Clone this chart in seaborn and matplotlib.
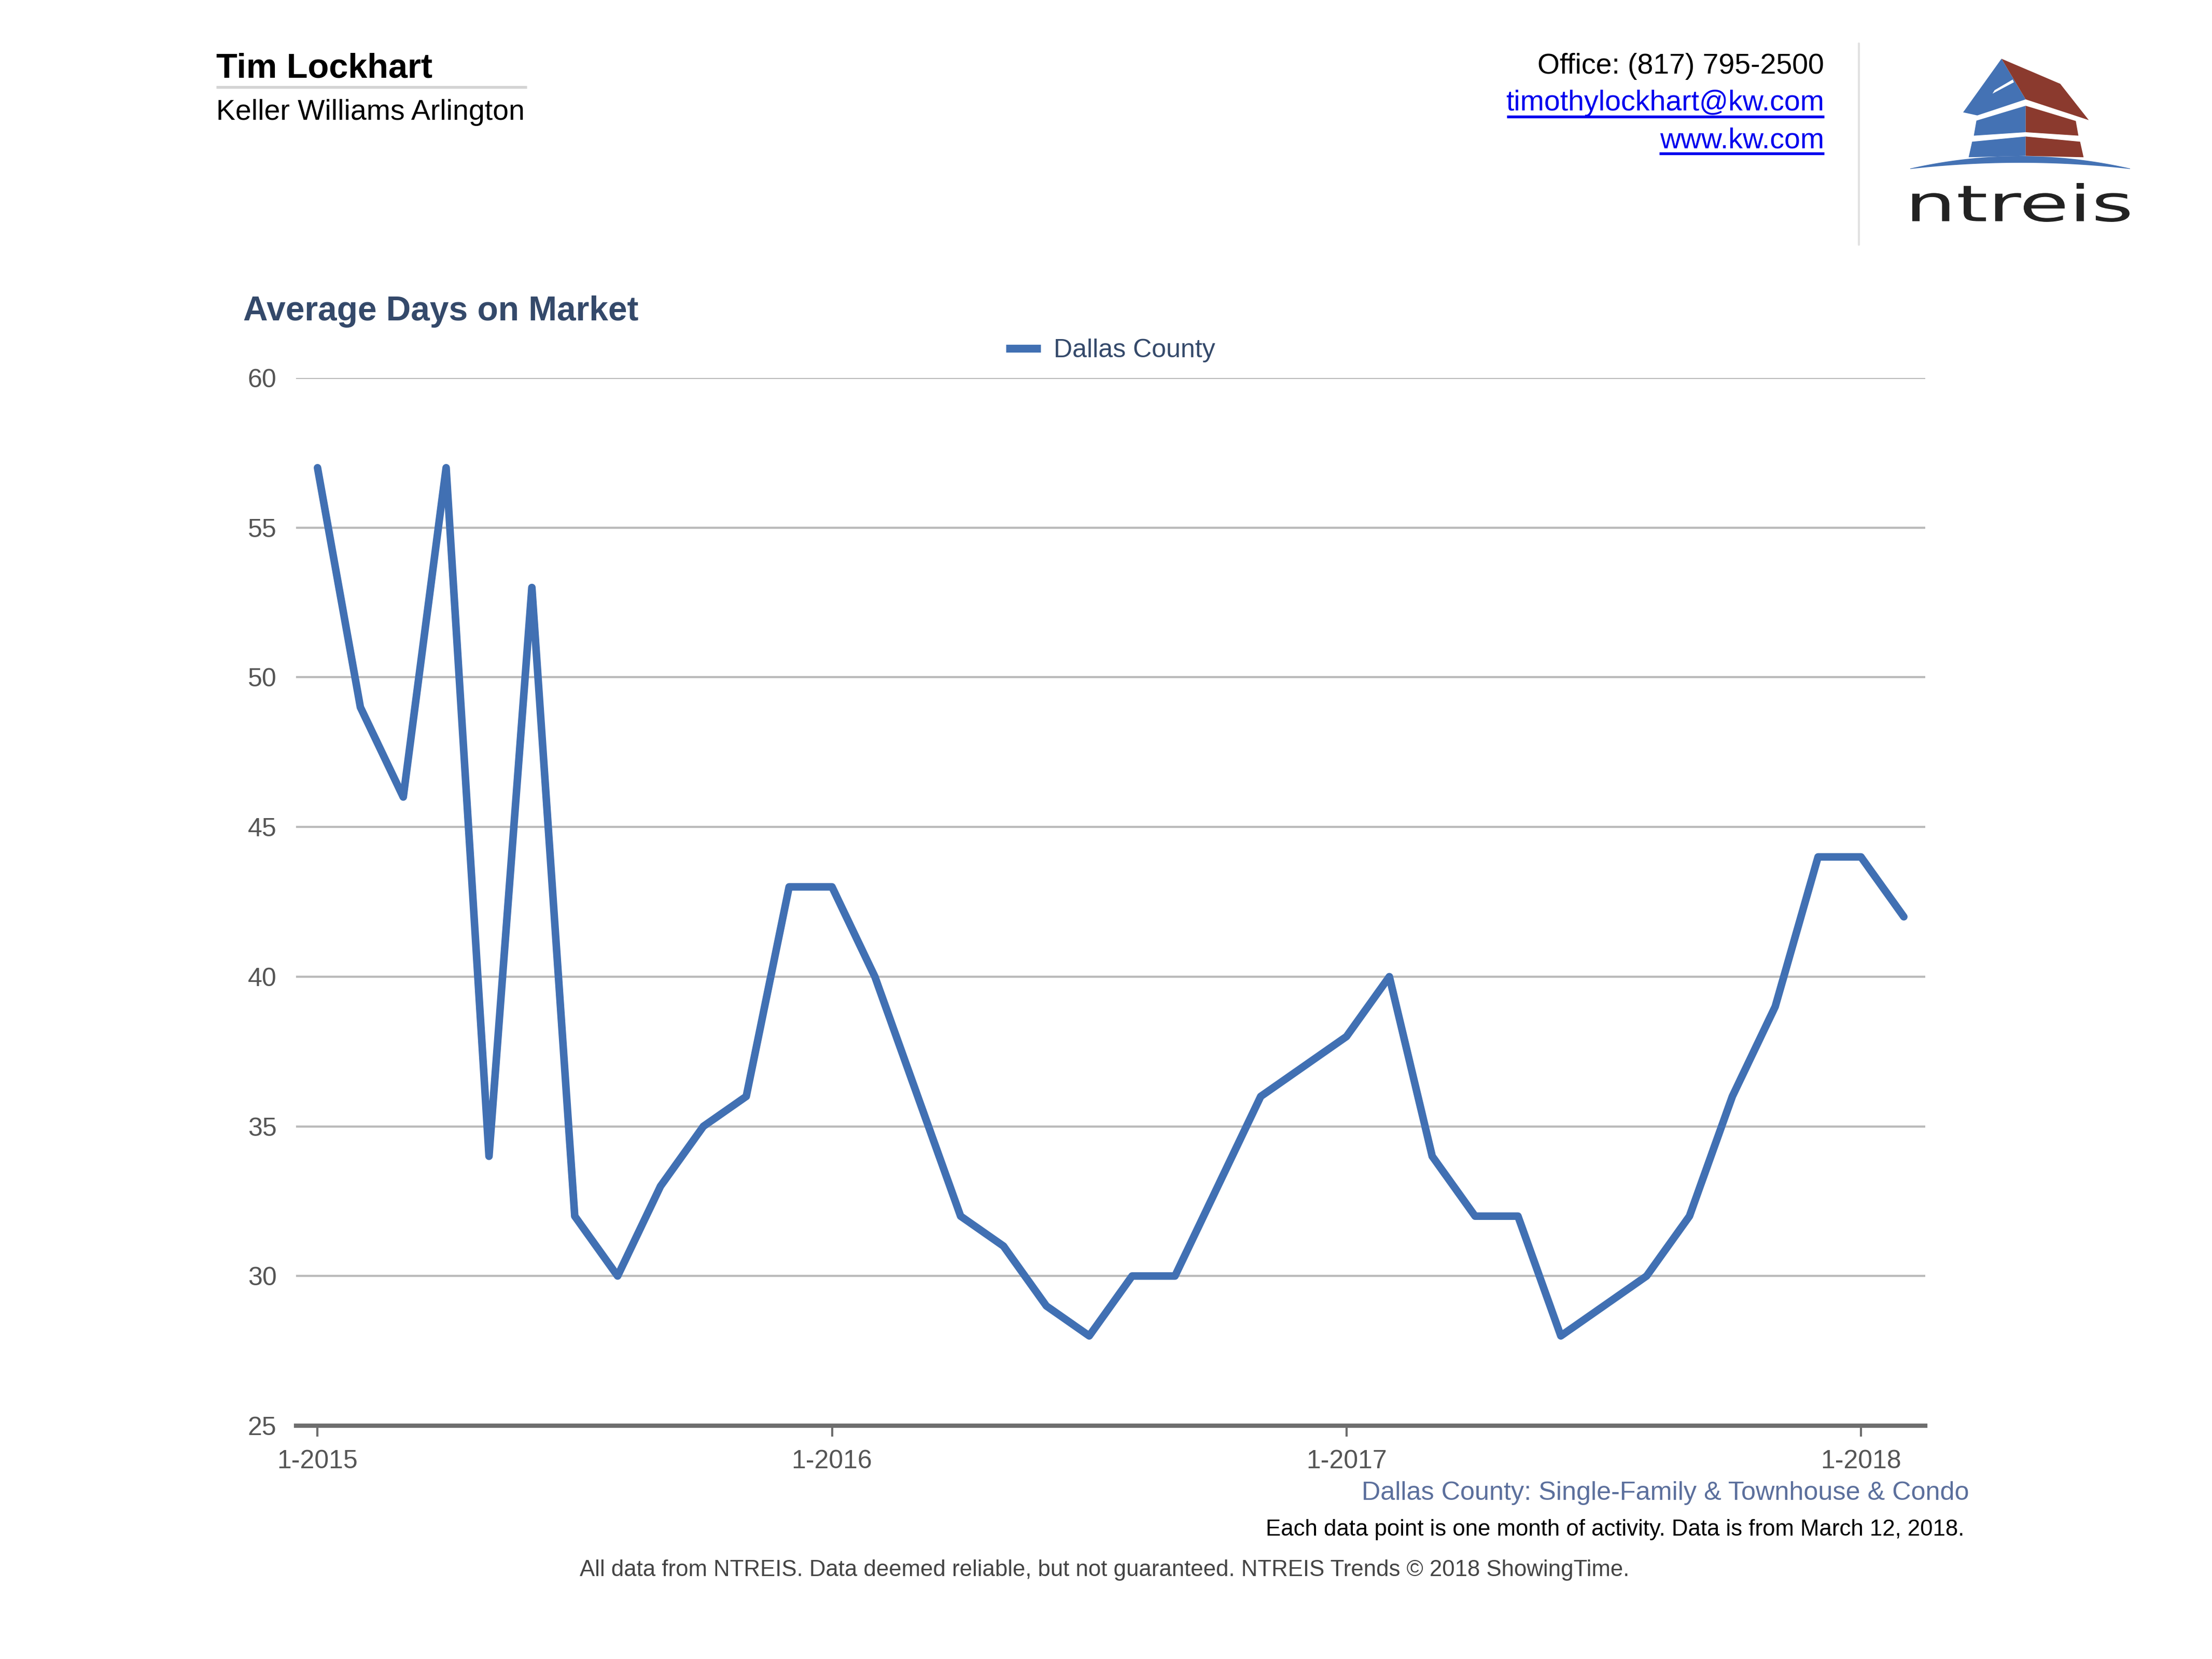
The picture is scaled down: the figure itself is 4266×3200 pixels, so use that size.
import numpy as np
import pandas as pd
import matplotlib
matplotlib.use("Agg")
import matplotlib.pyplot as plt
import seaborn as sns
from matplotlib.lines import Line2D
from matplotlib.patches import Polygon, PathPatch
from matplotlib.textpath import TextPath
from matplotlib.font_manager import FontProperties
from matplotlib.transforms import Affine2D

# ---------------- data ----------------
months = list(range(38))  # Jan 2015 .. Feb 2018
days_on_market = [57, 49, 46, 57, 34, 53, 32, 30, 33, 35, 36, 43,
                  43, 40, 36, 32, 31, 29, 28, 30, 30, 33, 36, 37,
                  38, 40, 34, 32, 32, 28, 29, 30, 32, 36, 39, 44,
                  44, 42]
tick_positions = [0, 12, 24, 36]
tick_labels = ["1-2015", "1-2016", "1-2017", "1-2018"]
y_ticks = [25, 30, 35, 40, 45, 50, 55, 60]
series_name = "Dallas County"

df = pd.DataFrame({"month": months, "days": days_on_market})

# ---------------- figure ----------------
W, H = 4266, 3200
DPI = 300
sns.set_theme(style="white")
plt.rcParams["font.family"] = ["Liberation Sans", "DejaVu Sans"]

fig = plt.figure(figsize=(W / DPI, H / DPI), dpi=DPI)
fig.patch.set_facecolor("white")

ax = fig.add_axes([571 / W, 1 - 2750 / H, (3713 - 571) / W, (2750 - 729) / H])
LINE_COLOR = "#4170b3"
sns.lineplot(data=df, x="month", y="days", ax=ax, color=LINE_COLOR,
             linewidth=3.5, solid_capstyle="round", solid_joinstyle="round",
             legend=False, zorder=3)

ax.set_xlim(-0.5, 37.5)
ax.set_ylim(25, 60)
ax.set_yticks(y_ticks)
ax.set_xticks(tick_positions)
ax.set_xticklabels(tick_labels)
ax.set_xlabel("")
ax.set_ylabel("")
ax.yaxis.grid(True, color="#bbbbbb", linewidth=1.0)
ax.xaxis.grid(False)
for s in ["top", "right", "left"]:
    ax.spines[s].set_visible(False)
ax.spines["bottom"].set_color("#6e6e6e")
ax.spines["bottom"].set_linewidth(2.0)
ax.spines["bottom"].set_zorder(4)
ax.tick_params(axis="x", direction="out", length=5, width=1.0, color="#6e6e6e",
               labelsize=12, labelcolor="#555555", pad=6, bottom=True)
ax.tick_params(axis="y", length=0, labelsize=12, labelcolor="#555555", pad=9)
ax.set_facecolor("white")

handle = Line2D([0], [0], color=LINE_COLOR, linewidth=3.6, solid_capstyle="butt")
leg = ax.legend([handle], [series_name], loc="center", bbox_to_anchor=(0.5, 1.026),
                frameon=False, fontsize=12, handlelength=1.34, handletextpad=0.5,
                borderpad=0, borderaxespad=0)
for t in leg.get_texts():
    t.set_color("#34496a")

# ---------------- overlay (header / footer / logo) ----------------
ov = fig.add_axes([0, 0, 1, 1], zorder=-1)
ov.set_xlim(0, W)
ov.set_ylim(H, 0)
ov.axis("off")

ov.text(417, 150, "Tim Lockhart", fontsize=16, fontweight="bold", color="black", va="baseline", ha="left")
ov.plot([417, 1016], [168, 168], color="#d3d3d3", linewidth=1.3, solid_capstyle="butt")
ov.text(417, 231, "Keller Williams Arlington", fontsize=13.3, color="black", va="baseline", ha="left")

ov.text(3518, 142, "Office: (817) 795-2500", fontsize=13.3, color="black", va="baseline", ha="right")
ov.text(3518, 213, "timothylockhart@kw.com", fontsize=13.3, color="#0000ee", va="baseline", ha="right")
ov.plot([2906, 3518], [225, 225], color="#0000ee", linewidth=1.3, solid_capstyle="butt")
ov.text(3518, 286, "www.kw.com", fontsize=13.3, color="#0000ee", va="baseline", ha="right")
ov.plot([3200, 3518], [296, 296], color="#0000ee", linewidth=1.3, solid_capstyle="butt")

ov.plot([3585, 3585], [84, 472], color="#e2e2e2", linewidth=1.0)

# ---- logo (decoration) ----
BLUE = "#4472b4"
BROWN = "#8b3a2e"


def lp(pts):
    return [(3660 + zx / 3.0, 90 + zy / 3.0) for zx, zy in pts]


tt = np.linspace(-1, 1, 80)
arc_x = 3896 + 212 * tt
top_y = 325 - 24 * (1 - tt ** 2)
bot_y = 326 - 12 * (1 - tt ** 2)
arc = np.vstack([np.column_stack([arc_x, top_y]), np.column_stack([arc_x[::-1], bot_y[::-1]])])
ov.add_patch(Polygon(arc, closed=True, facecolor=BLUE, edgecolor="none"))

shapes = [
    ([(600, 70), (378, 380), (460, 398), (740, 305)], BLUE),
    ([(600, 70), (940, 215), (1105, 425), (740, 305)], BROWN),
    ([(455, 428), (740, 342), (740, 495), (440, 515)], BLUE),
    ([(740, 342), (1030, 430), (1045, 515), (740, 495)], BROWN),
    ([(430, 550), (740, 520), (740, 632), (410, 640)], BLUE),
    ([(740, 520), (1055, 550), (1075, 640), (740, 632)], BROWN),
    ([(548, 272), (560, 252), (665, 190), (672, 206)], "white"),
]
for pts, col in shapes:
    ov.add_patch(Polygon(lp(pts), closed=True, facecolor=col, edgecolor="none"))

tp = TextPath((0, 0), "ntreis", size=100, prop=FontProperties(family="DejaVu Sans"))
ext = tp.get_extents()
sx = (4107 - 3688) / ext.width
sy = (428 - 353) / ext.height
tr = Affine2D().translate(-ext.x0, -ext.y0).scale(sx, -sy).translate(3688, 428)
ov.add_patch(PathPatch(tr.transform_path(tp), facecolor="#222222", edgecolor="none"))

# ---- titles and footer ----
ov.text(469, 618, "Average Days on Market", fontsize=15.8, fontweight="bold", color="#34496a",
        va="baseline", ha="left")

ov.text(3797, 2893, "Dallas County: Single-Family & Townhouse & Condo", fontsize=12.1,
        color="#5b6f9c", va="baseline", ha="right")
ov.text(3788, 2962, "Each data point is one month of activity. Data is from March 12, 2018.",
        fontsize=10.5, color="black", va="baseline", ha="right")
ov.text(2130, 3040, "All data from NTREIS. Data deemed reliable, but not guaranteed. NTREIS Trends \u00a9 2018 ShowingTime.",
        fontsize=10.5, color="#444444", va="baseline", ha="center")

fig.savefig("out.png", dpi=DPI, facecolor="white")
